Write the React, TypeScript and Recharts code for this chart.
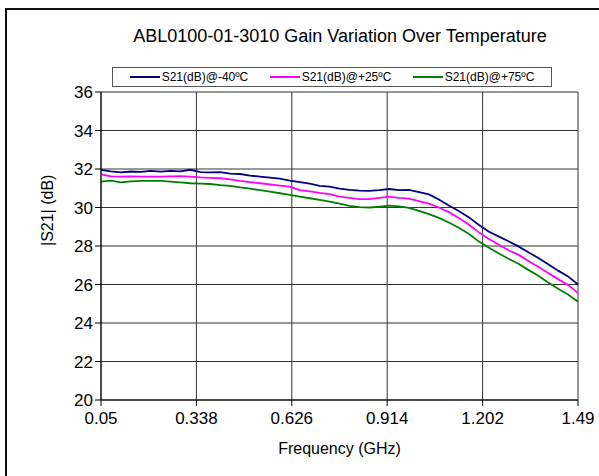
import { CartesianGrid, Line, LineChart, XAxis, YAxis } from "recharts";

const freqs = [
  0.05, 0.08, 0.11, 0.14, 0.17, 0.2, 0.23, 0.26, 0.29, 0.32, 0.35, 0.38, 0.41, 0.44, 0.47, 0.5, 0.53,
  0.56, 0.59, 0.62, 0.65, 0.68, 0.71, 0.74, 0.77, 0.8, 0.83, 0.86, 0.89, 0.92, 0.95, 0.98, 1.01, 1.04,
  1.07, 1.1, 1.13, 1.16, 1.19, 1.22, 1.25, 1.28, 1.31, 1.34, 1.37, 1.4, 1.43, 1.46, 1.49
];

const gainMinus40 = [
  31.95, 31.88, 31.83, 31.87, 31.85, 31.9, 31.86, 31.9, 31.88, 31.96, 31.84, 31.82, 31.84, 31.76, 31.74,
  31.66, 31.6, 31.55, 31.5, 31.4, 31.32, 31.24, 31.12, 31.08, 30.98, 30.92, 30.88, 30.86, 30.9, 30.96,
  30.9, 30.92, 30.8, 30.68, 30.42, 30.1, 29.82, 29.5, 29.1, 28.75, 28.5, 28.25, 27.98, 27.68, 27.38,
  27.05, 26.72, 26.42, 26.0
];

const gainPlus25 = [
  31.72, 31.62, 31.6, 31.62, 31.6, 31.6, 31.6, 31.62, 31.63, 31.6, 31.56, 31.54, 31.52, 31.46, 31.38,
  31.32, 31.26, 31.2, 31.14, 31.08, 30.9, 30.84, 30.76, 30.7, 30.56, 30.5, 30.43, 30.44, 30.5, 30.56,
  30.5, 30.46, 30.33, 30.2, 30.0, 29.76, 29.45, 29.12, 28.72, 28.38, 28.08, 27.78, 27.55, 27.22, 26.92,
  26.6, 26.28, 25.98, 25.55
];

const gainPlus75 = [
  31.34, 31.4, 31.31, 31.36, 31.38, 31.38, 31.38, 31.34, 31.3, 31.26, 31.24, 31.22, 31.16, 31.12, 31.04,
  30.98, 30.9, 30.82, 30.74, 30.66, 30.56, 30.48, 30.4, 30.3, 30.2, 30.08, 30.02, 30.0, 30.04, 30.1,
  30.06, 29.98, 29.82, 29.66, 29.46, 29.22, 28.95, 28.64, 28.24, 27.92, 27.62, 27.34, 27.08, 26.76, 26.45,
  26.1, 25.78, 25.48, 25.1
];

const xTicks = [0.05, 0.338, 0.626, 0.914, 1.202, 1.49];
const yTicks = [20, 22, 24, 26, 28, 30, 32, 34, 36];

const seriesNames = ["S21(dB)@-40ºC", "S21(dB)@+25ºC", "S21(dB)@+75ºC"];
const seriesColors = ["#000080", "#ff00ff", "#008000"];

const data = freqs.map((f, i) => ({
  f,
  s1: gainMinus40[i],
  s2: gainPlus25[i],
  s3: gainPlus75[i]
}));

const font = "'Liberation Sans', Arial, sans-serif";

function LegendBox() {
  return (
    <div
      style={{
        position: "absolute",
        left: 112,
        top: 67,
        display: "flex",
        justifyContent: "space-around",
        alignItems: "center",
        border: "1px solid #555",
        background: "#fff",
        width: 440,
        height: 20,
        fontFamily: font,
        fontSize: 12,
        color: "#000",
        boxSizing: "border-box",
        padding: "0 6px"
      }}
    >
      {seriesNames.map((name, i) => (
        <span key={name} style={{ display: "flex", alignItems: "center" }}>
          <span style={{ display: "inline-block", width: 30, height: 2, background: seriesColors[i], marginRight: 2 }} />
          {name}
        </span>
      ))}
    </div>
  );
}

export default function App() {
  return (
    <div style={{ position: "absolute", left: 0, top: 0, width: 599, height: 476, background: "#fff", overflow: "hidden" }}>
      <div
        style={{
          position: "absolute",
          left: 5,
          top: 8,
          width: 700,
          height: 600,
          border: "2px solid #111",
          boxSizing: "border-box"
        }}
      />
      <div
        style={{
          position: "absolute",
          left: 0,
          top: 26,
          width: 680,
          textAlign: "center",
          fontFamily: font,
          fontSize: 18,
          color: "#000"
        }}
      >
        ABL0100-01-3010 Gain Variation Over Temperature
      </div>
      <div style={{ position: "absolute", left: 0, top: 0 }}>
        <LineChart width={599} height={476} data={data} margin={{ top: 92, right: 21, bottom: 46, left: 41 }}>
          <CartesianGrid stroke="#333" strokeWidth={1} />
          <XAxis
            dataKey="f"
            type="number"
            domain={[0.05, 1.49]}
            ticks={xTicks}
            interval={0}
            height={30}
            tickSize={6}
            tick={{ fill: "#000", fontSize: 17, fontFamily: font, dy: 4 }}
            stroke="#000"
            label={{ value: "Frequency (GHz)", position: "insideBottom", offset: -24, fill: "#000", fontSize: 16, fontFamily: font }}
          />
          <YAxis
            type="number"
            domain={[20, 36]}
            ticks={yTicks}
            interval={0}
            width={60}
            tickSize={6}
            tick={{ fill: "#000", fontSize: 17, fontFamily: font }}
            stroke="#000"
            label={{ value: "|S21| (dB)", angle: -90, position: "insideLeft", offset: 6, fill: "#000", fontSize: 16, fontFamily: font }}
          />
          <Line dataKey="s1" name={seriesNames[0]} stroke={seriesColors[0]} strokeWidth={1.8} dot={false} isAnimationActive={false} />
          <Line dataKey="s2" name={seriesNames[1]} stroke={seriesColors[1]} strokeWidth={1.8} dot={false} isAnimationActive={false} />
          <Line dataKey="s3" name={seriesNames[2]} stroke={seriesColors[2]} strokeWidth={1.8} dot={false} isAnimationActive={false} />
        </LineChart>
      </div>
      <LegendBox />
    </div>
  );
}
